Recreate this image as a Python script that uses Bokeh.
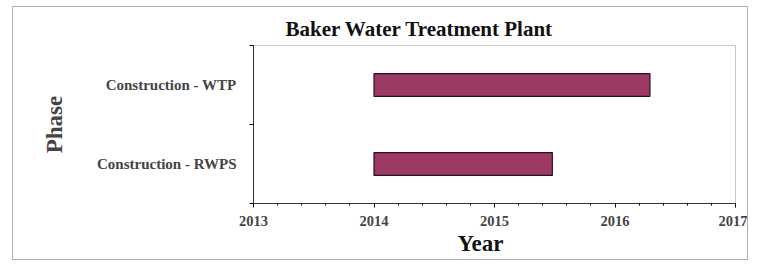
from bokeh.plotting import figure
from bokeh.models import FixedTicker, Range1d, Title
from bokeh.embed import file_html
from bokeh.resources import INLINE

phases = ["Construction - RWPS", "Construction - WTP"]
start_year = [2014.0, 2014.0]
end_year = [2015.48, 2016.29]
x_ticks = [2013, 2014, 2015, 2016, 2017]

FONT = "Liberation Serif"
ypos = [i + 0.5 for i in range(len(phases))]

p = figure(width=736, height=254, output_backend="svg", toolbar_location=None,
           x_range=Range1d(2013, 2017), y_range=Range1d(0, len(phases)),
           min_border_left=240, min_border_right=14, min_border_top=38, min_border_bottom=58)
p.styles = {"border": "1px solid #b0b0b0", "margin-left": "12px", "margin-top": "6px"}

p.hbar(y=ypos, left=start_year, right=end_year, height=0.29,
       fill_color="#9c3a64", line_color="#2a1020", line_width=1.2)

p.title = Title(text="Baker Water Treatment Plant", align="left", offset=32,
                text_font=FONT, text_font_size="21px", text_font_style="bold",
                text_color="#111111")

p.add_layout(Title(text="Year", align="left", offset=204, standoff=1,
                   text_font=FONT, text_font_size="23px", text_font_style="bold",
                   text_color="#111111"), "below")

p.xgrid.visible = False
p.ygrid.visible = False
p.outline_line_color = "#c8c8c8"
p.background_fill_color = "white"
p.border_fill_color = "white"

xa = p.xaxis[0]
xa.ticker = FixedTicker(ticks=x_ticks, minor_ticks=[2013 + i * 0.2 for i in range(21)])
xa.major_label_text_font = FONT
xa.major_label_text_font_style = "bold"
xa.major_label_text_font_size = "14.5px"
xa.major_label_standoff = 8
xa.axis_line_color = "#333333"
xa.major_tick_in = 0
xa.major_tick_out = 4
xa.minor_tick_in = 0
xa.minor_tick_out = 2

ya = p.yaxis[0]
ya.ticker = FixedTicker(ticks=ypos, minor_ticks=list(range(len(phases) + 1)))
ya.major_label_overrides = {y: name for y, name in zip(ypos, phases)}
ya.major_label_text_font = FONT
ya.major_label_text_font_style = "bold"
ya.major_label_text_font_size = "15px"
ya.major_label_standoff = 13
ya.major_tick_in = 0
ya.major_tick_out = 0
ya.minor_tick_in = 0
ya.minor_tick_out = 4
ya.axis_line_color = "#333333"
ya.axis_label = "Phase"
ya.axis_label_text_font = FONT
ya.axis_label_text_font_style = "bold"
ya.axis_label_text_font_size = "23px"
ya.axis_label_standoff = 27

open("out.html", "w").write(file_html(p, INLINE))
